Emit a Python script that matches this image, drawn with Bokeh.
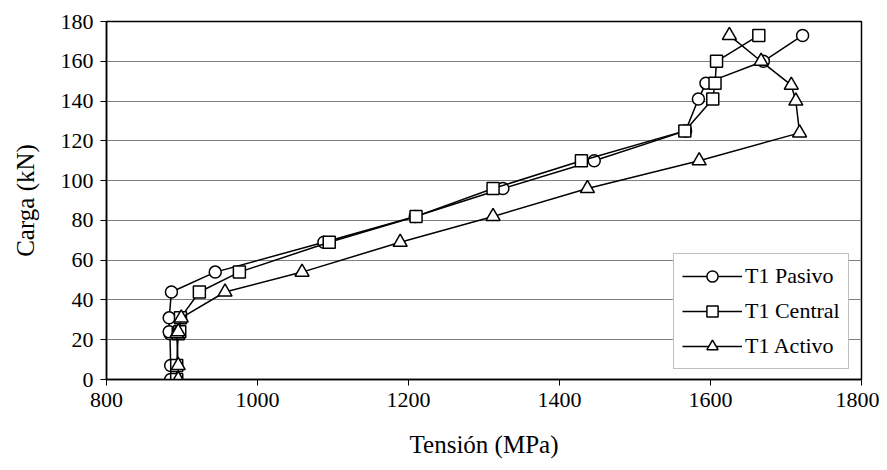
from bokeh.plotting import figure
from bokeh.embed import file_html
from bokeh.resources import INLINE
from bokeh.models import Range1d, FixedTicker, Legend, LegendItem

# Data
load_pasivo = [0, 7, 23, 24, 31, 44, 54, 69, 82, 96, 110, 125, 141, 149, 160, 173]
stress_pasivo = [885, 885, 884, 883, 883, 886, 944, 1088, 1209, 1325, 1446, 1567, 1584, 1594, 1670, 1722]

load_central = [0, 7, 23, 24, 31, 44, 54, 69, 82, 96, 110, 125, 141, 149, 160, 173]
stress_central = [893, 893, 895, 897, 898, 923, 976, 1095, 1210, 1312, 1429, 1566, 1603, 1606, 1608, 1664]

load_activo = [0, 7, 23, 24, 31, 44, 54, 69, 82, 96, 110, 124, 140, 148, 160, 173]
stress_activo = [895, 895, 893, 895, 899, 957, 1059, 1189, 1312, 1437, 1585, 1718, 1713, 1707, 1667, 1625]

series_names = ["T1 Pasivo", "T1 Central", "T1 Activo"]
x_ticks = [800, 1000, 1200, 1400, 1600, 1800]
y_ticks = [0, 20, 40, 60, 80, 100, 120, 140, 160, 180]

FONT = "Liberation Serif"

p = figure(width=879, height=462, output_backend="svg", toolbar_location=None,
           x_range=Range1d(800, 1800), y_range=Range1d(0, 180),
           min_border_left=106, min_border_right=18, min_border_top=21, min_border_bottom=83)

p.outline_line_color = "black"
p.outline_line_width = 1.5
p.xgrid.grid_line_color = None
p.ygrid.grid_line_color = "#808080"
p.ygrid.grid_line_width = 1.2

for ax in (p.xaxis[0], p.yaxis[0]):
    ax.axis_line_color = "black"
    ax.axis_line_width = 1.5
    ax.major_tick_line_color = "black"
    ax.major_tick_line_width = 1
    ax.major_tick_out = 6
    ax.major_tick_in = 0
    ax.minor_tick_line_color = None
    ax.major_label_text_font = FONT
    ax.major_label_text_font_size = "22px"
    ax.major_label_text_color = "black"
    ax.axis_label_text_font = FONT
    ax.axis_label_text_font_size = "25px"
    ax.axis_label_text_font_style = "normal"
    ax.axis_label_text_color = "black"

p.xaxis[0].ticker = FixedTicker(ticks=x_ticks)
p.yaxis[0].ticker = FixedTicker(ticks=y_ticks)
p.xaxis[0].axis_label = "Tensión (MPa)"
p.yaxis[0].axis_label = "Carga (kN)"
p.xaxis[0].major_label_standoff = 7
p.yaxis[0].major_label_standoff = 7
p.xaxis[0].axis_label_standoff = 21
p.yaxis[0].axis_label_standoff = 19

items = []
specs = [(stress_pasivo, load_pasivo, "circle", 12),
         (stress_central, load_central, "square", 12),
         (stress_activo, load_activo, "triangle", 14)]
for (xs, ys, marker, sz), name in zip(specs, series_names):
    ln = p.line(xs, ys, line_color="black", line_width=1.5)
    sc = p.scatter(xs, ys, marker=marker, size=sz, line_color="black", line_width=1.5,
                   fill_color="white")
    items.append(LegendItem(label=name, renderers=[ln, sc]))

legend = Legend(items=items, location=(567, 10))
legend.label_text_font = FONT
legend.label_text_font_size = "22px"
legend.label_text_color = "black"
legend.border_line_color = "#808080"
legend.border_line_width = 1.5
legend.background_fill_color = "white"
legend.background_fill_alpha = 1
legend.glyph_width = 60
legend.glyph_height = 28
legend.label_height = 28
legend.label_standoff = 3
legend.spacing = 7
legend.padding = 8
legend.margin = 0
p.add_layout(legend, "center")

open("out.html", "w").write(file_html(p, INLINE))
